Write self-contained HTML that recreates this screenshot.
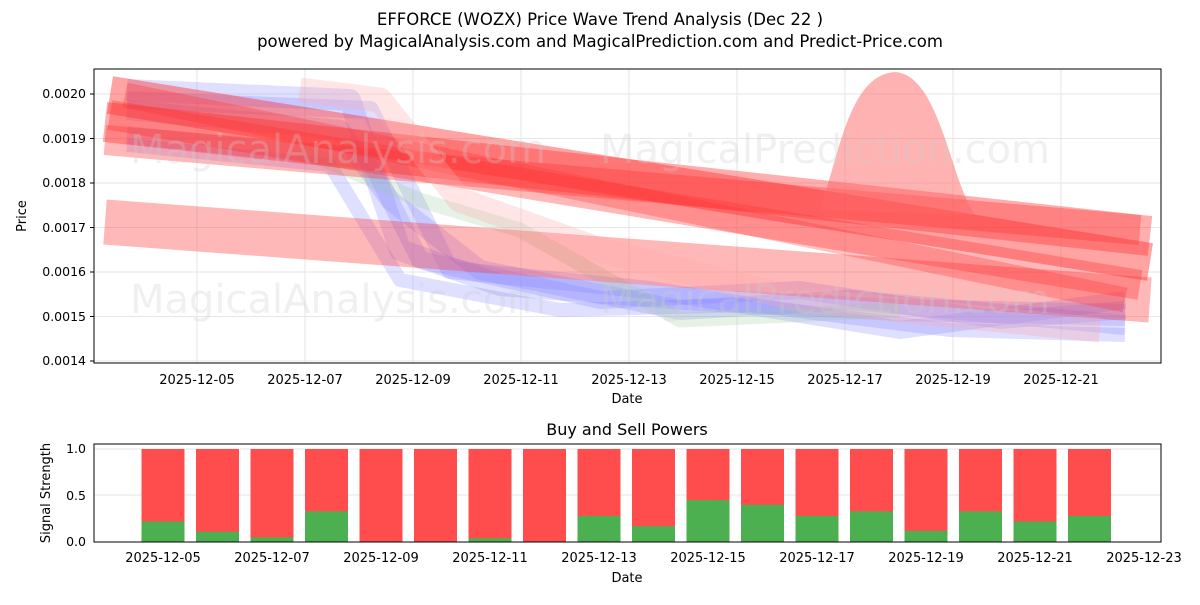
<!DOCTYPE html>
<html><head><meta charset="utf-8"><style>
body{margin:0;background:#fff;}
svg text{font-family:"DejaVu Sans","Liberation Sans",sans-serif;fill:#000;}
</style></head><body>
<svg width="1200" height="600" viewBox="0 0 1200 600" xmlns="http://www.w3.org/2000/svg">
<text x="600" y="25" font-size="16.5" text-anchor="middle">EFFORCE (WOZX) Price Wave Trend Analysis (Dec 22 )</text>
<text x="600" y="47" font-size="16.5" text-anchor="middle">powered by MagicalAnalysis.com and MagicalPrediction.com and Predict-Price.com</text>
<defs><clipPath id="c1"><rect x="94" y="69" width="1067" height="294"/></clipPath></defs>
<g stroke="#e6e6e6" stroke-width="1">
<line x1="197" y1="69" x2="197" y2="363"/><line x1="305" y1="69" x2="305" y2="363"/><line x1="413" y1="69" x2="413" y2="363"/><line x1="521" y1="69" x2="521" y2="363"/><line x1="629" y1="69" x2="629" y2="363"/><line x1="737" y1="69" x2="737" y2="363"/><line x1="845" y1="69" x2="845" y2="363"/><line x1="953" y1="69" x2="953" y2="363"/><line x1="1061" y1="69" x2="1061" y2="363"/>
<line x1="94" y1="94" x2="1161" y2="94"/><line x1="94" y1="138.5" x2="1161" y2="138.5"/><line x1="94" y1="183" x2="1161" y2="183"/><line x1="94" y1="227.5" x2="1161" y2="227.5"/><line x1="94" y1="272" x2="1161" y2="272"/><line x1="94" y1="316.5" x2="1161" y2="316.5"/><line x1="94" y1="361" x2="1161" y2="361"/>
</g>
<g clip-path="url(#c1)" fill="none" stroke-linejoin="round">
<g stroke="#8080ff" stroke-opacity="0.25">
<polyline stroke-width="22" points="127,90 350,100 400,250 500,285 700,300 900,310 1125,315"/>
<polyline stroke-width="18" points="127,135 370,160 420,260 600,300 800,290 1000,320 1125,310"/>
<polyline stroke-width="20" points="127,110 340,130 390,200 480,270 680,310 850,300 1125,325"/>
<polyline stroke-width="14" points="127,145 330,165 400,280 560,310 750,305 950,330 1125,335"/>
<polyline stroke-width="18" points="127,100 370,110 450,270 650,290 900,330 1125,300"/>
</g>
<g stroke="#9c9" stroke-opacity="0.25"><polyline stroke-width="15" points="300,150 420,200 520,230 680,320 900,310"/></g>
<g stroke="#ff3333" stroke-linecap="butt">
<line x1="105" y1="122" x2="1150" y2="236" stroke-width="40" stroke-opacity="0.4"/>
<line x1="110" y1="95" x2="1150" y2="262" stroke-width="38" stroke-opacity="0.45"/>
<line x1="110" y1="115" x2="1140" y2="285" stroke-width="30" stroke-opacity="0.35"/>
<line x1="105" y1="222" x2="1150" y2="300" stroke-width="45" stroke-opacity="0.35"/>
<line x1="125" y1="95" x2="1125" y2="300" stroke-width="25" stroke-opacity="0.3"/>
<line x1="105" y1="140" x2="1140" y2="230" stroke-width="30" stroke-opacity="0.35"/>
</g>
<path d="M820,210 C840,150 850,75 895,72 C940,75 950,180 975,215 Z" fill="#ff6666" fill-opacity="0.5"/>
<g stroke="#ffaaaa" stroke-opacity="0.3"><polyline stroke-width="25" points="300,90 380,100 460,200 600,250 800,300 1100,330"/></g>
</g>
<g font-size="40"><text x="130" y="163" style="fill:#ccc;fill-opacity:0.3">MagicalAnalysis.com</text><text x="600" y="163" style="fill:#ccc;fill-opacity:0.3">MagicalPrediction.com</text><text x="130" y="313" style="fill:#ccc;fill-opacity:0.3">MagicalAnalysis.com</text><text x="600" y="313" style="fill:#ccc;fill-opacity:0.3">MagicalPrediction.com</text></g>
<rect x="94" y="69" width="1067" height="294" fill="none" stroke="#000"/>
<g font-size="12.5" text-anchor="end">
<text x="86" y="98">0.0020</text><text x="86" y="143">0.0019</text><text x="86" y="187">0.0018</text><text x="86" y="232">0.0017</text><text x="86" y="276">0.0016</text><text x="86" y="321">0.0015</text><text x="86" y="365">0.0014</text>
</g>
<g stroke="#000"><line x1="90" y1="94" x2="94" y2="94"/><line x1="90" y1="138.5" x2="94" y2="138.5"/><line x1="90" y1="183" x2="94" y2="183"/><line x1="90" y1="227.5" x2="94" y2="227.5"/><line x1="90" y1="272" x2="94" y2="272"/><line x1="90" y1="316.5" x2="94" y2="316.5"/><line x1="90" y1="361" x2="94" y2="361"/></g>
<g font-size="13" text-anchor="middle">
<text x="197" y="384">2025-12-05</text><text x="305" y="384">2025-12-07</text><text x="413" y="384">2025-12-09</text><text x="521" y="384">2025-12-11</text><text x="629" y="384">2025-12-13</text><text x="737" y="384">2025-12-15</text><text x="845" y="384">2025-12-17</text><text x="953" y="384">2025-12-19</text><text x="1061" y="384">2025-12-21</text>
<text x="627" y="403" font-size="13">Date</text>
</g>
<text x="26" y="216" font-size="13" text-anchor="middle" transform="rotate(-90 26 216)">Price</text>
<text x="627" y="435" font-size="16" text-anchor="middle">Buy and Sell Powers</text>
<g stroke="#e6e6e6"><line x1="94" y1="449" x2="1161" y2="449"/><line x1="94" y1="495" x2="1161" y2="495"/></g>
<g id="bars"></g>
<g font-size="12.5" text-anchor="end"><text x="86" y="453">1.0</text><text x="86" y="500">0.5</text><text x="86" y="546">0.0</text></g>
<text x="50" y="493" font-size="13" text-anchor="middle" transform="rotate(-90 50 493)">Signal Strength</text>
<g font-size="13" text-anchor="middle">
<text x="163" y="562">2025-12-05</text><text x="272" y="562">2025-12-07</text><text x="381" y="562">2025-12-09</text><text x="490" y="562">2025-12-11</text><text x="599" y="562">2025-12-13</text><text x="708" y="562">2025-12-15</text><text x="817" y="562">2025-12-17</text><text x="926" y="562">2025-12-19</text><text x="1035" y="562">2025-12-21</text><text x="1144" y="562">2025-12-23</text>
<text x="627" y="582" font-size="13">Date</text>
</g>
<rect x="94" y="444" width="1067" height="98" fill="none" stroke="#000"/>
</svg>
<script>
var g=[0.22,0.11,0.05,0.33,0,0,0.04,0,0.28,0.17,0.45,0.4,0.28,0.33,0.12,0.33,0.22,0.28];
var s='';for(var i=0;i<g.length;i++){var cx=163+i*54.5,x=cx-21.5;var gh=g[i]*93;
s+='<rect x="'+x+'" y="449" width="43" height="93" fill="#ff4d4d"/>';
if(gh>0)s+='<rect x="'+x+'" y="'+(542-gh)+'" width="43" height="'+gh+'" fill="#4caf50"/>';}
document.getElementById('bars').innerHTML=s;
</script>
</body></html>
